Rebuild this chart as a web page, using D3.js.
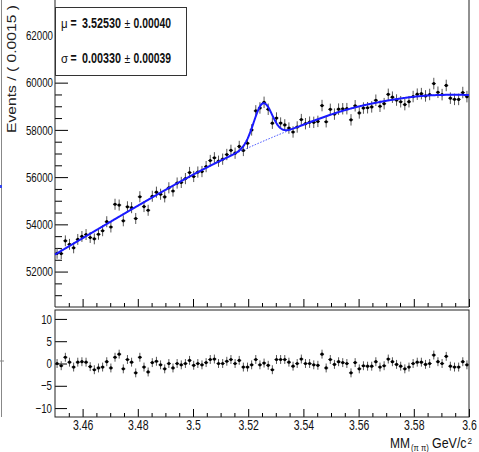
<!DOCTYPE html>
<html>
<head>
<meta charset="utf-8">
<script src="https://cdn.jsdelivr.net/npm/d3@7"></script>
<style>
  html, body { margin: 0; padding: 0; background: #fff; }
  svg { display: block; }
</style>
</head>
<body>
<svg id="chart" width="479" height="452"></svg>
<script>
// Histogram binning
const binLow = 3.45;
const binWidth = 0.0015;

// Events per bin
const counts = [
  52772, 52761, 53302, 53153, 53004, 53361, 53488, 53569, 53443, 53385,
  53580, 53729, 54111, 53888, 54850, 54817, 54150, 54743, 54706, 54248,
  55168, 54753, 54596, 55190, 55362, 55274, 55163, 55547, 55412, 55749,
  55775, 55938, 56196, 56027, 56214, 56235, 56445, 56703, 56819, 56674,
  56760, 56958, 57134, 57013, 57299, 57128, 57433, 57999, 58805, 58929,
  59166, 58873, 58283, 58502, 58289, 58212, 58077, 57911, 58123, 58435,
  58262, 58327, 58319, 58360, 59030, 58345, 58870, 58669, 58879, 58895,
  58898, 58426, 59021, 58718, 58924, 58938, 58974, 59255, 59000, 59110,
  59505, 59385, 59263, 59192, 59070, 59193, 59412, 59511, 59535, 59439,
  59499, 59961, 59593, 59493, 59881, 59343, 59292, 59290, 59581, 59408
];

// Pull of each bin relative to the fit
const pulls = [
  0, -0.5, 1.4, 0.3, -0.8, 0.3, 0.4, 0.3, -0.7, -1.4,
  -1.0, -0.8, 0.4, -1.0, 1.4, 2.1, -1.2, 0.9, 0.3, -2.1,
  1.4, -0.8, -1.9, 0.2, 0.5, -0.3, -1.2, 0, -1.0, 0,
  -0.3, 0, 0.7, -0.4, 0, -0.3, 0.2, 0.9, 1.0, 0,
  0, 0.5, 0.9, 0, 0.7, -0.8, -0.8, -0.3, 0.9, -0.3,
  0.1, -0.4, -1.4, 0.9, 0.9, 0.9, 0.3, -0.6, 0, 1.0,
  0, 0, -0.3, -0.4, 2.1, -1.0, 0.9, -0.2, 0.4, 0.2,
  0, -2.1, 0.2, -1.2, -0.5, -0.6, -0.6, 0.4, -0.8, -0.5,
  1.0, 0.4, -0.2, -0.6, -1.2, -0.8, 0, 0.3, 0.3, -0.2,
  0, 1.9, 0.4, 0, 1.6, -0.6, -0.8, -0.8, 0.4, -0.3
];

// Fit model: smooth background (control values, evenly spaced over the range) + Gaussian peak
const bgKnots = [52720, 53760, 54790, 55800, 56720, 57510, 58230, 58880, 59250, 59500, 59480];
const peakMu = 3.52530;
const peakSigma = 0.00330;
const peakAmp = 1610;

// Fit results shown in the box
const fitParams = [
  { sym: "μ", val: "3.52530", err: "0.00040" },
  { sym: "σ", val: "0.00330", err: "0.00039" }
];

// Axis ticks
const xTickLabels = ["3.46", "3.48", "3.5", "3.52", "3.54", "3.56", "3.58", "3.6"];
const yTickLabels = ["52000", "54000", "56000", "58000", "60000", "62000"];
const pullTickLabels = ["-10", "-5", "0", "5", "10"];

const svg = d3.select("#chart");
const left = 55, right = 469;
const topY0 = 0, topY1 = 307;
const resY0 = 310, resY1 = 417;

const x = d3.scaleLinear().domain([3.45, 3.6]).range([left, right]);
const y = d3.scaleLinear().domain([50500, 63500]).range([topY1, topY0]);
const yr = d3.scaleLinear().domain([-12, 12]).range([resY1, resY0]);

const bgInterp = d3.interpolateBasis(bgKnots);
const bg = v => bgInterp((v - 3.45) / 0.15);
const total = v => bg(v) + peakAmp * Math.exp(-0.5 * Math.pow((v - peakMu) / peakSigma, 2));

const bins = counts.map((c, i) => ({
  x0: binLow + i * binWidth,
  xc: binLow + (i + 0.5) * binWidth,
  x1: binLow + (i + 1) * binWidth,
  c: c,
  p: pulls[i]
}));

const fontSans = '"Liberation Sans", Arial, Helvetica, sans-serif';
const squeeze = 0.75;   // horizontal condensing of axis lettering

// Condensed lettering for axis tick labels: scale horizontally about the tick
function condense(sel, size) {
  sel.attr("font-family", fontSans).attr("font-size", size).attr("fill", "#111")
    .each(function () {
      const t = d3.select(this);
      const x0 = +t.attr("x") || 0;
      t.attr("x", x0 / squeeze).attr("transform", `scale(${squeeze},1)`);
    });
}
// Free-standing label, condensed by factor sx about its left baseline point
function label(xp, yp, str, size, opts = {}) {
  const sx = opts.sx || 1;
  return svg.append("text")
    .attr("transform", `translate(${xp},${yp}) scale(${sx},1)`)
    .attr("font-family", fontSans).attr("font-size", size).attr("fill", "#111")
    .attr("font-weight", opts.bold ? "bold" : "normal")
    .text(str);
}

// Stray frame edge on the far left
svg.append("line").attr("x1", 1.5).attr("x2", 1.5).attr("y1", 0).attr("y2", 417)
  .attr("stroke", "#888").attr("stroke-width", 1);
svg.append("line").attr("x1", 0).attr("x2", 4).attr("y1", 361).attr("y2", 361)
  .attr("stroke", "#888").attr("stroke-width", 1);
svg.append("rect").attr("x", 0).attr("y", 185).attr("width", 2).attr("height", 3).attr("fill", "#3344ee");

// ---------- Top panel ----------
const gTop = svg.append("g");

// y axis (major + minor ticks pointing inward)
const yMajor = yTickLabels.map(Number);
const yMinor = d3.range(51000, 63500, 500).filter(v => v % 2000 !== 0);
gTop.append("g").attr("transform", `translate(${left},0)`)
  .call(d3.axisLeft(y).tickValues(yMinor).tickSize(-7).tickFormat(""))
  .call(g => g.select(".domain").remove());
gTop.append("g").attr("transform", `translate(${left},0)`)
  .call(d3.axisLeft(y).tickValues(yMajor).tickSize(-13).tickPadding(2).tickFormat((d, i) => yTickLabels[i]))
  .call(g => g.select(".domain").remove())
  .call(g => condense(g.selectAll("text"), 13));

// x ticks on the bottom edge of the top panel
const xMajor = xTickLabels.map(Number);
const xMinor = d3.range(3.455, 3.6, 0.005).filter(v => Math.abs(Math.round(v / 0.02) * 0.02 - v) > 1e-6);
gTop.append("g").attr("transform", `translate(0,${topY1})`)
  .call(d3.axisBottom(x).tickValues(xMinor).tickSize(-4).tickFormat(""))
  .call(g => g.select(".domain").remove());
gTop.append("g").attr("transform", `translate(0,${topY1})`)
  .call(d3.axisBottom(x).tickValues(xMajor).tickSize(-8).tickFormat(""))
  .call(g => g.select(".domain").remove());

// frame
gTop.append("path")
  .attr("d", `M${left},${topY0}V${topY1}H${right}V${topY0}`)
  .attr("fill", "none").attr("stroke", "#222").attr("stroke-width", 1);

// y title
svg.append("text")
  .attr("transform", `translate(16,5) rotate(-90)`)
  .attr("text-anchor", "end")
  .attr("font-family", fontSans).attr("font-size", 12.5)
  .attr("textLength", 128).attr("lengthAdjust", "spacingAndGlyphs")
  .attr("fill", "#222")
  .text("Events / ( 0.0015 )");

// data error bars
const gData = gTop.append("g");
gData.selectAll("line.ey").data(bins).join("line").attr("class", "ey")
  .attr("x1", d => x(d.xc)).attr("x2", d => x(d.xc))
  .attr("y1", d => y(d.c - Math.sqrt(d.c))).attr("y2", d => y(d.c + Math.sqrt(d.c)))
  .attr("stroke", "#555").attr("stroke-width", 1);
gData.selectAll("line.ex").data(bins).join("line").attr("class", "ex")
  .attr("x1", d => x(d.x0)).attr("x2", d => x(d.x1))
  .attr("y1", d => y(d.c)).attr("y2", d => y(d.c))
  .attr("stroke", "#444").attr("stroke-width", 1);

// fit curves
const grid = d3.range(0, 601).map(i => 3.45 + 0.15 * i / 600);
const line = d3.line().x(d => x(d[0])).y(d => y(d[1]));
gTop.append("path")
  .attr("d", line(grid.map(v => [v, bg(v)])))
  .attr("fill", "none").attr("stroke", "#3040ff").attr("stroke-width", 1)
  .attr("stroke-dasharray", "1.5,1.5");
gTop.append("path")
  .attr("d", line(grid.map(v => [v, total(v)])))
  .attr("fill", "none").attr("stroke", "#1a1aff").attr("stroke-width", 2);

// data markers
gData.selectAll("circle").data(bins).join("circle")
  .attr("cx", d => x(d.xc)).attr("cy", d => y(d.c)).attr("r", 1.6)
  .attr("fill", "#000");

// fit-result box
svg.append("rect").attr("x", 55.5).attr("y", 7.5).attr("width", 131).attr("height", 68)
  .attr("fill", "#fff").attr("stroke", "#333").attr("stroke-width", 1);
fitParams.forEach((p, i) => {
  const yy = 28 + i * 35;
  label(61, yy, p.sym, 13.5, { sx: 0.85 });
  label(70.5, yy, "=", 14, { bold: true, sx: 0.75 });
  label(82, yy, p.val, 14, { bold: true, sx: 0.77 });
  label(124.5, yy, "±", 13, { sx: 0.8 });
  label(133.5, yy, p.err, 14, { bold: true, sx: 0.74 });
});

// ---------- Residual panel ----------
const gRes = svg.append("g");
gRes.append("g").attr("transform", `translate(${left},0)`)
  .call(d3.axisLeft(yr).tickValues(pullTickLabels.map(Number)).tickSize(-12).tickPadding(3)
    .tickFormat((d, i) => pullTickLabels[i].replace("-", "\u2212")))
  .call(g => g.select(".domain").remove())
  .call(g => condense(g.selectAll("text"), 13));

gRes.append("g").attr("transform", `translate(0,${resY1})`)
  .call(d3.axisBottom(x).tickValues(xMinor).tickSize(-4).tickFormat(""))
  .call(g => g.select(".domain").remove());
gRes.append("g").attr("transform", `translate(0,${resY1})`)
  .call(d3.axisBottom(x).tickValues(xMajor).tickSize(-8).tickPadding(3).tickFormat((d, i) => xTickLabels[i]))
  .call(g => g.select(".domain").remove())
  .call(g => condense(g.selectAll("text"), 14));

gRes.append("rect").attr("x", left).attr("y", resY0).attr("width", right - left).attr("height", resY1 - resY0)
  .attr("fill", "none").attr("stroke", "#222").attr("stroke-width", 1);

gRes.selectAll("line.ry").data(bins).join("line").attr("class", "ry")
  .attr("x1", d => x(d.xc)).attr("x2", d => x(d.xc))
  .attr("y1", d => yr(d.p - 1)).attr("y2", d => yr(d.p + 1))
  .attr("stroke", "#555").attr("stroke-width", 1);
gRes.selectAll("line.rx").data(bins).join("line").attr("class", "rx")
  .attr("x1", d => x(d.x0)).attr("x2", d => x(d.x1))
  .attr("y1", d => yr(d.p)).attr("y2", d => yr(d.p))
  .attr("stroke", "#444").attr("stroke-width", 1);
gRes.selectAll("circle").data(bins).join("circle")
  .attr("cx", d => x(d.xc)).attr("cy", d => yr(d.p)).attr("r", 1.6).attr("fill", "#000");

// x title: MM_(π π) GeV/c²
label(390, 448, "MM", 15, { sx: 0.8 });
label(411, 451, "(π π)", 9, { sx: 0.85 });
label(432, 448, "GeV/c", 15, { sx: 0.83 });
label(467.5, 444, "2", 9, { sx: 0.9 });
</script>
</body>
</html>
